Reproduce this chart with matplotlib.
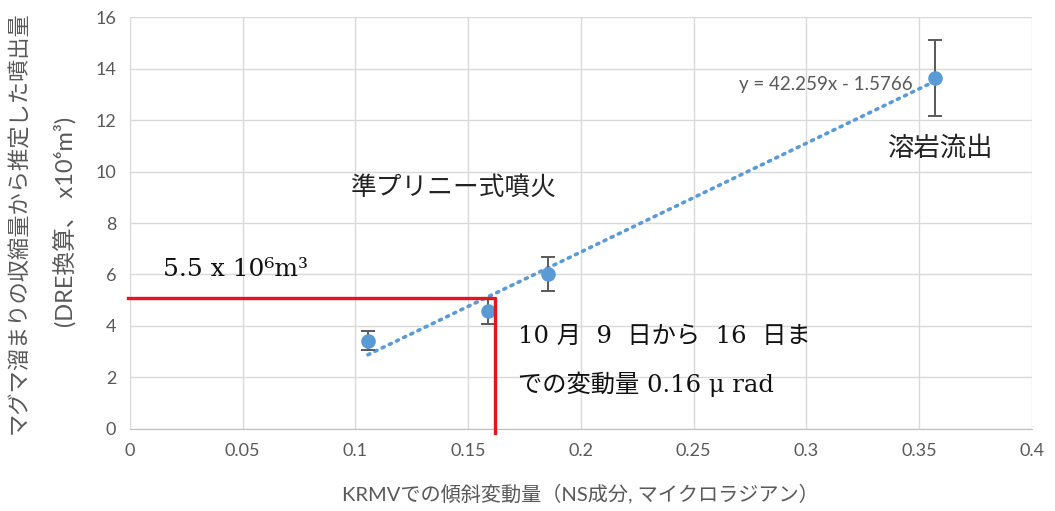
import numpy as np
import matplotlib
matplotlib.use("Agg")
import matplotlib.pyplot as plt

plt.rcParams['font.family'] = ['Lato', 'Noto Sans CJK JP', 'DejaVu Sans']

# 観測値: 傾斜変動量 (μrad) と 噴出量 (x10^6 m^3)
tilt = [0.1055, 0.1588, 0.1854, 0.3570]
volume = [3.42, 4.58, 6.02, 13.62]
vol_err = [0.37, 0.50, 0.67, 1.48]

# 近似直線 y = a x + b
slope = 42.259
intercept = -1.5766

# 10/9-16 の変動量と読み取り値
tilt_oct = 0.162
vol_oct = 5.1

x_ticks = [0, 0.05, 0.1, 0.15, 0.2, 0.25, 0.3, 0.35, 0.4]
x_ticklabels = ['0', '0.05', '0.1', '0.15', '0.2', '0.25', '0.3', '0.35', '0.4']
y_ticks = [0, 2, 4, 6, 8, 10, 12, 14, 16]

grey = '#595959'
blue = '#5b9bd5'
red = '#e8141b'
serif_jp = ['DejaVu Serif', 'Noto Sans CJK JP']

fig = plt.figure(figsize=(10.55, 5.11), dpi=100)
ax = fig.add_axes([0.1232, 0.1605, 0.8550, 0.8062])

ax.set_xlim(0, 0.4)
ax.set_ylim(0, 16)
ax.set_xticks(x_ticks)
ax.set_xticklabels(x_ticklabels)
ax.set_yticks(y_ticks)
ax.grid(True, color='#d9d9d9', linewidth=1.0)
ax.set_axisbelow(True)
for side in ['left', 'top', 'right']:
    ax.spines[side].set_visible(False)
ax.spines['bottom'].set_color('#bfbfbf')
ax.tick_params(length=0, labelsize=13, colors=grey, pad=10)

# 近似直線 (点線)
xs = np.array([min(tilt), max(tilt)])
ax.plot(xs, slope * xs + intercept, linestyle=(0, (0.6, 1.6)), color=blue,
        linewidth=2.6, dash_capstyle='round', zorder=3)

ax.errorbar(tilt, volume, yerr=vol_err, fmt='o', color=blue, markersize=9.5,
            ecolor=grey, elinewidth=1.4, capsize=5, capthick=1.4, zorder=4)

# 赤線 (読み取り)
ax.plot([-0.001, tilt_oct, tilt_oct], [vol_oct, vol_oct, -0.15], color=red,
        linewidth=2.4, solid_joinstyle='round', clip_on=False, zorder=5)

ax.text(0.3085, 13.38, 'y = 42.259x - 1.5766', ha='center', va='center',
        fontsize=13.5, color=grey)
ax.text(0.3592, 10.9, '溶岩流出', ha='center', va='center', fontsize=19,
        color='#222222')
ax.text(0.1437, 9.4, '準プリニー式噴火', ha='center', va='center',
        fontsize=18.5, color='#222222')
ax.text(0.0146, 6.2, '5.5 x 10⁶m³', ha='left', va='center',
        fontsize=18, color='#111111', family=serif_jp)
ax.text(0.1722, 3.6, '10 月  9  日から  16  日ま', ha='left', va='center',
        fontsize=17.5, color='#111111', family=serif_jp)
ax.text(0.1722, 1.75, 'での変動量 0.16 μ rad', ha='left', va='center',
        fontsize=17.5, color='#111111', family=serif_jp)

fig.text(0.55, 0.035, 'KRMVでの傾斜変動量（NS成分, マイクロラジアン）',
         ha='center', va='center', fontsize=14.5, color=grey)
fig.text(0.018, 0.565, 'マグマ溜まりの収縮量から推定した噴出量', ha='center',
         va='center', rotation=90, fontsize=16, color=grey)
fig.text(0.062, 0.565, '(DRE換算、 x10⁶m³)', ha='center',
         va='center', rotation=90, fontsize=17, color=grey)

fig.savefig('out.png', dpi=100)
